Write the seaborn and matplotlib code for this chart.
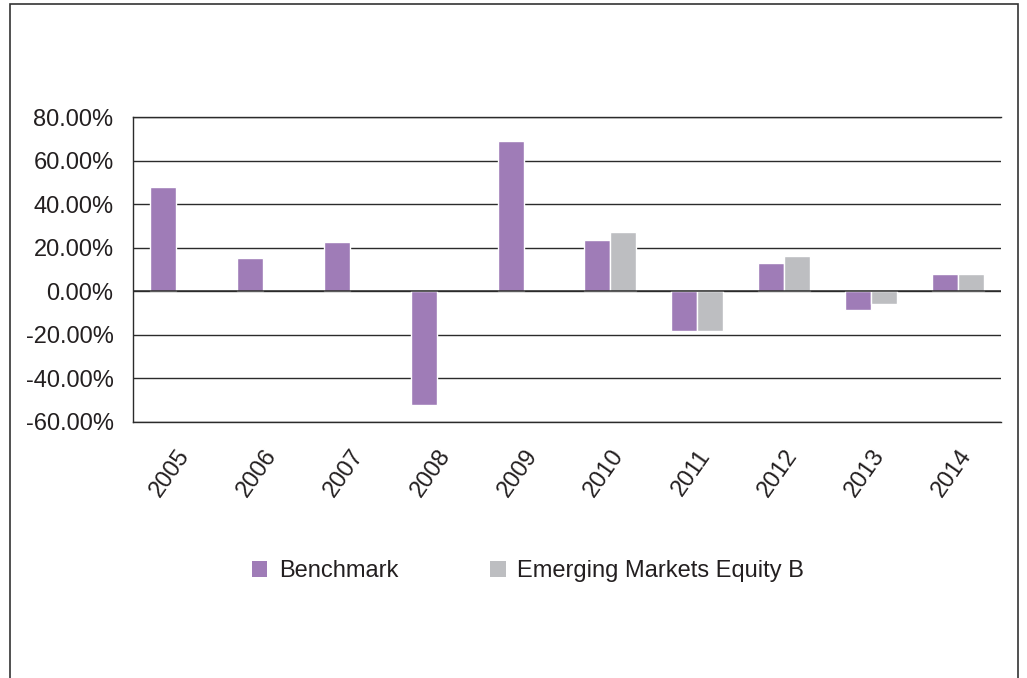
import pandas as pd
import seaborn as sns
import matplotlib.pyplot as plt
from matplotlib.patches import Patch, Rectangle
from matplotlib.ticker import FuncFormatter

# Values (annual returns, %)
years = ["2005", "2006", "2007", "2008", "2009", "2010", "2011", "2012", "2013", "2014"]
benchmark = [47.9, 15.3, 22.4, -52.2, 68.9, 23.6, -18.0, 12.9, -8.7, 8.1]
em_years = ["2010", "2011", "2012", "2013", "2014"]
em_equity_b = [27.0, -18.0, 16.4, -5.8, 8.1]
series_names = ["Benchmark", "Emerging Markets Equity B"]
colors = ["#9F7CB7", "#BDBEC1"]

df = pd.concat([
    pd.DataFrame({"Year": years, "Return": benchmark, "Series": series_names[0]}),
    pd.DataFrame({"Year": em_years, "Return": em_equity_b, "Series": series_names[1]}),
])

sns.set_style("white")
plt.rcParams["font.family"] = ["Liberation Sans", "DejaVu Sans"]
text_color = "#231F20"
line_color = "#2b2b2b"
fs = 17

fig = plt.figure(figsize=(10.27, 6.78), dpi=100)
ax = fig.add_axes([133 / 1027, 1 - 422 / 678, (1001 - 133) / 1027, (422 - 117) / 678])

sns.barplot(data=df, x="Year", y="Return", hue="Series", order=years,
            hue_order=series_names, palette=colors, saturation=1, width=0.6,
            edgecolor="white", linewidth=1, errorbar=None, ax=ax, zorder=3)

ax.set_ylim(-60, 80)
ax.set_yticks(range(-60, 81, 20))
ax.yaxis.set_major_formatter(FuncFormatter(lambda v, p: f"{v:.2f}%"))
ax.grid(axis="y", color=line_color, linewidth=1.0, zorder=0)
ax.set_axisbelow(True)
ax.axhline(0, color=line_color, linewidth=1.1, zorder=4)

ax.spines["right"].set_visible(False)
for side in ["left", "top", "bottom"]:
    ax.spines[side].set_color(line_color)
    ax.spines[side].set_linewidth(1.0)

ax.set_xlabel("")
ax.set_ylabel("")
ax.tick_params(axis="y", length=0, pad=14, labelsize=fs, labelcolor=text_color)
ax.tick_params(axis="x", length=0, pad=17, labelsize=fs, labelcolor=text_color)
for lbl in ax.get_xticklabels():
    lbl.set_rotation(55)
    lbl.set_ha("right")
    lbl.set_va("top")
    lbl.set_rotation_mode("anchor")

ax.get_legend().remove()
handles = [Patch(facecolor=c, edgecolor="none") for c in colors]
fig.legend(handles, series_names, loc="center", bbox_to_anchor=(528 / 1027, 1 - 571 / 678),
           ncol=2, frameon=False, fontsize=fs, labelcolor=text_color,
           handlelength=0.65, handleheight=0.65, handletextpad=0.5, columnspacing=3.9)

# outer frame around the chart (open at the bottom edge of the image)
fig.patches.append(Rectangle((10 / 1027, -0.1), (1018 - 10) / 1027, 1.1 - 4 / 678,
                             transform=fig.transFigure, fill=False,
                             edgecolor="#333333", linewidth=1.2))

fig.savefig("out.png", dpi=100)
